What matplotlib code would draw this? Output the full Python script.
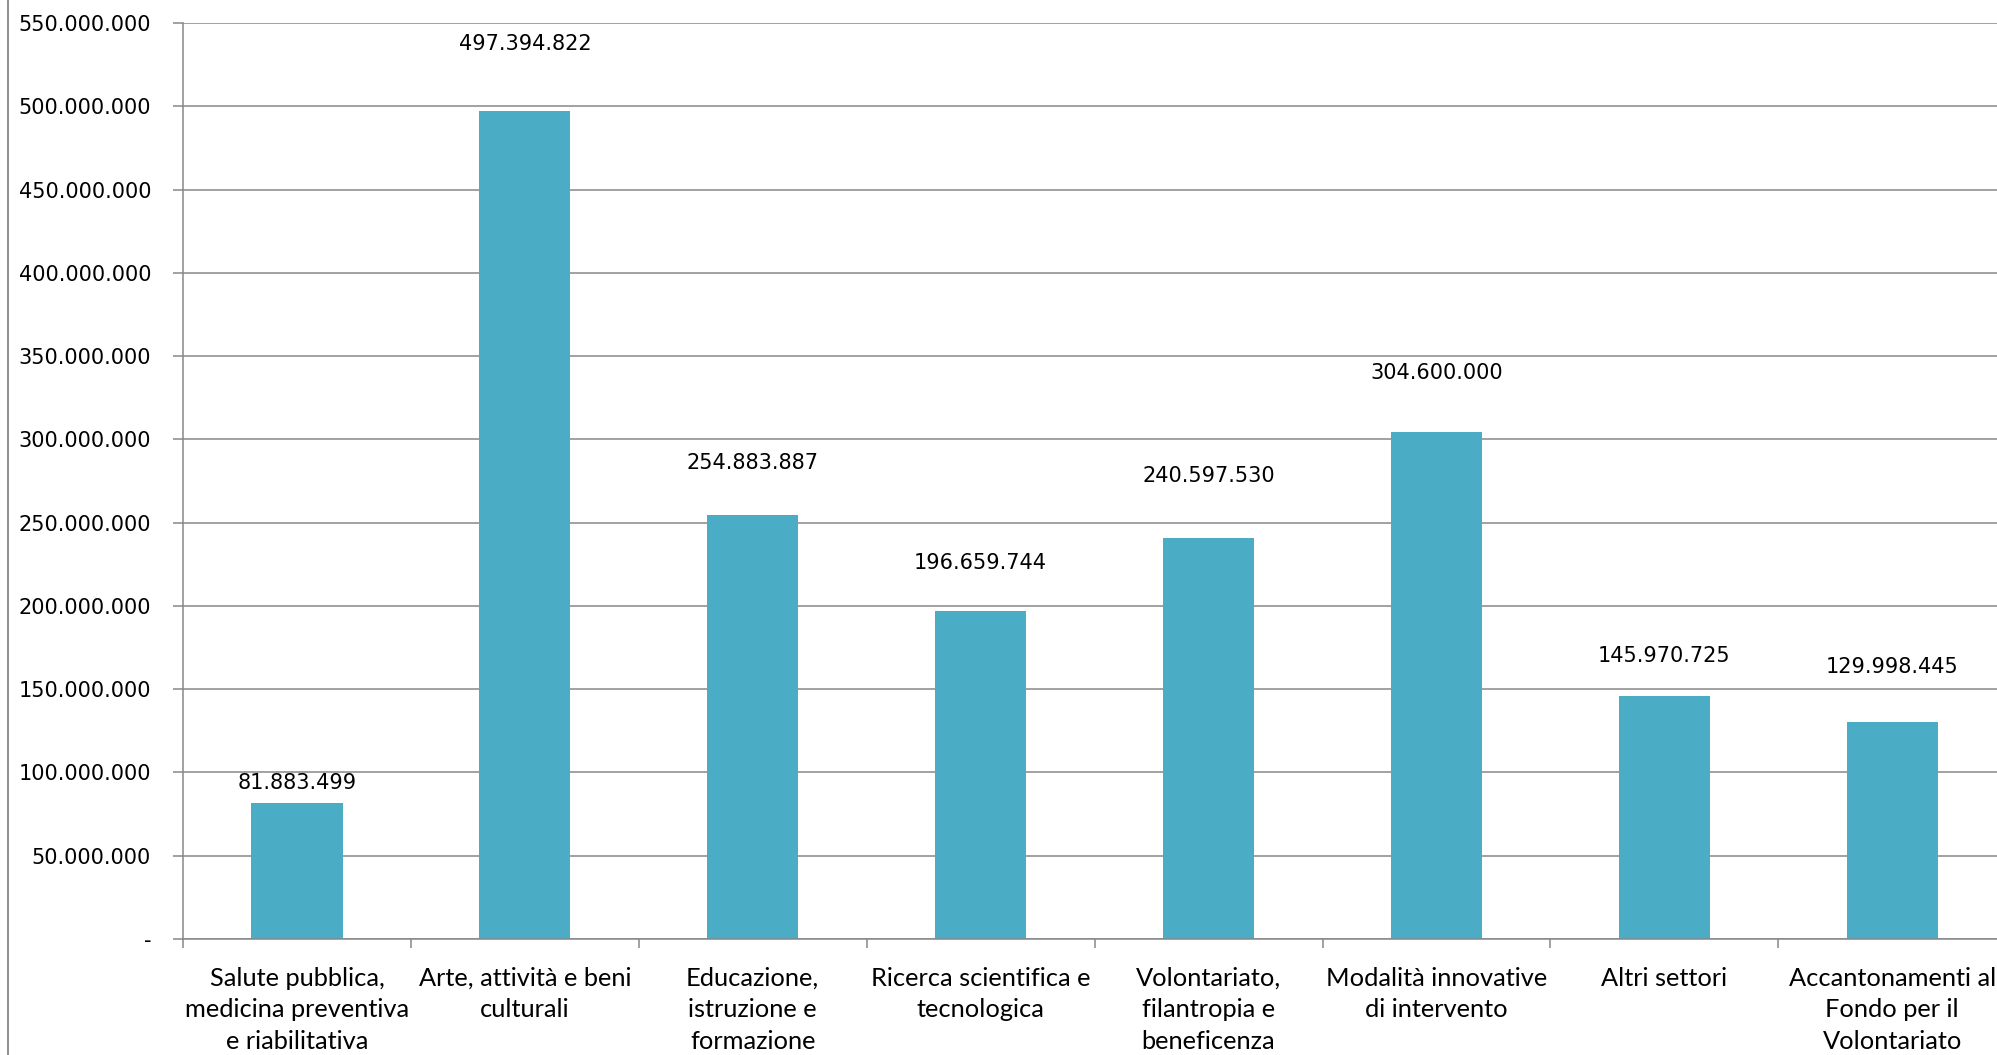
import matplotlib
matplotlib.use("Agg")
import matplotlib.pyplot as plt
from matplotlib.lines import Line2D
from matplotlib.ticker import FuncFormatter, MultipleLocator, FixedLocator

categories = [
    "Salute pubblica,\nmedicina preventiva\ne riabilitativa",
    "Arte, attività e beni\nculturali",
    "Educazione,\nistruzione e\nformazione",
    "Ricerca scientifica e\ntecnologica",
    "Volontariato,\nfilantropia e\nbeneficenza",
    "Modalità innovative\ndi intervento",
    "Altri settori",
    "Accantonamenti al\nFondo per il\nVolontariato",
]
values = [81883499, 497394822, 254883887, 196659744, 240597530, 304600000, 145970725, 129998445]

# style: vertical offset of each value label above its bar (points)
label_offsets_pt = [14, 48, 37, 35, 45, 42, 29, 40]

W, H = 1997, 1055
fig = plt.figure(figsize=(W / 100, H / 100), dpi=100)
left = 183 / W
bottom = 1 - 939 / H
top = 1 - 23 / H
width = 8 * 227.9 / W
ax = fig.add_axes([left, bottom, width, top - bottom])

bar_color = "#4BACC6"
grid_color = "#878787"

x = list(range(len(values)))
ax.bar(x, values, width=0.40, color=bar_color, zorder=3)

ax.set_xlim(-0.5, len(values) - 0.5)
ax.set_ylim(0, 550_000_000)
ax.yaxis.set_major_locator(MultipleLocator(50_000_000))


def fmt(v, pos=None):
    if abs(v) < 1:
        return "-"
    return f"{int(round(v)):,}".replace(",", ".")


ax.yaxis.set_major_formatter(FuncFormatter(fmt))
ax.grid(axis="y", color=grid_color, linewidth=1.1, zorder=0)
ax.set_axisbelow(True)

for s in ["top", "right"]:
    ax.spines[s].set_visible(False)
for s in ["left", "bottom"]:
    ax.spines[s].set_color(grid_color)
    ax.spines[s].set_linewidth(1.1)
ax.spines["bottom"].set_zorder(4)

ax.tick_params(axis="y", length=7, width=1.1, color=grid_color, pad=16,
               labelsize=15, labelcolor="black")
for lab in ax.get_yticklabels():
    lab.set_fontfamily("DejaVu Sans")

ax.set_xticks(x)
ax.set_xticklabels(categories, fontsize=18.3, family="Lato", linespacing=1.45)
ax.tick_params(axis="x", which="major", length=0, pad=20)
ax.xaxis.set_minor_locator(FixedLocator([i - 0.5 for i in range(len(values))]))
ax.tick_params(axis="x", which="minor", length=6.5, width=1.1, color=grid_color)

for xi, v, off in zip(x, values, label_offsets_pt):
    ax.annotate(fmt(v), xy=(xi, v), xytext=(0, off), textcoords="offset points",
                ha="center", va="center", fontsize=15, family="DejaVu Sans")

fig.add_artist(Line2D([7.5 / W, 7.5 / W], [0, 1], color=grid_color, linewidth=1.3,
                      transform=fig.transFigure))

fig.savefig("out.png", dpi=100)
